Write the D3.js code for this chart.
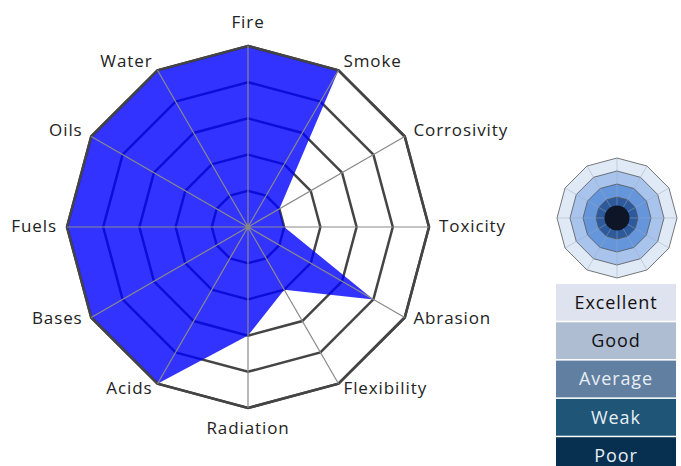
<!DOCTYPE html>
<html>
<head>
<meta charset="utf-8">
<script src="https://cdn.jsdelivr.net/npm/d3@7"></script>
<style>
  body { margin: 0; background: #fff; }
  svg text { font-family: "Open Sans", "Lato", sans-serif; letter-spacing: 0.9px; }
</style>
</head>
<body>
<div id="chart"></div>
<script>
// chart data
var axes = ["Fire", "Smoke", "Corrosivity", "Toxicity", "Abrasion", "Flexibility",
            "Radiation", "Acids", "Bases", "Fuels", "Oils", "Water"];
var values = [5, 5, 1, 1, 4, 2, 3, 5, 5, 5, 5, 5];
var levels = [1, 2, 3, 4, 5];
var ratings = ["Excellent", "Good", "Average", "Weak", "Poor"];

var width = 681, height = 466,
    cx = 248, cy = 227,
    radius = 181;

var svg = d3.select("#chart").append("svg")
            .attr("width", width)
            .attr("height", height);

var r = d3.scaleLinear().domain([0, 5]).range([0, radius]);
var angle = d3.scaleLinear().domain([0, axes.length]).range([0, 2 * Math.PI]);

var ringLine = d3.lineRadial()
                 .angle(function(d, i) { return angle(i); })
                 .radius(function(d) { return r(d); })
                 .curve(d3.curveLinearClosed);

var g = svg.append("g").attr("transform", "translate(" + cx + "," + cy + ")");

/* grid rings */
g.selectAll(".ring")
 .data(levels)
 .enter().append("path")
 .attr("class", "ring")
 .attr("d", function(l) { return ringLine(axes.map(function() { return l; })); })
 .attr("fill", "none")
 .attr("stroke", "#444")
 .attr("stroke-width", 2.5);

/* data area */
g.append("path")
 .datum(values)
 .attr("d", ringLine)
 .attr("fill", "#0000ff")
 .attr("fill-opacity", 0.8);

/* outer ring over the area */
g.append("path")
 .attr("d", ringLine(axes.map(function() { return 5; })))
 .attr("fill", "none")
 .attr("stroke", "#444")
 .attr("stroke-width", 2.5);

/* spokes */
g.selectAll(".spoke")
 .data(axes)
 .enter().append("line")
 .attr("class", "spoke")
 .attr("x1", 0).attr("y1", 0)
 .attr("x2", function(d, i) { return r(5) * Math.sin(angle(i)); })
 .attr("y2", function(d, i) { return -r(5) * Math.cos(angle(i)); })
 .attr("stroke", "#8a8a8a")
 .attr("stroke-width", 1.2);

g.append("circle").attr("r", 2.5).attr("fill", "#888");

/* axis labels */
g.selectAll(".label")
 .data(axes)
 .enter().append("text")
 .attr("class", "label")
 .attr("x", function(d, i) { return (radius + 10) * Math.sin(angle(i)); })
 .attr("y", function(d, i) {
     var c = Math.cos(angle(i)),
         y = -(radius + 10) * c - 1;
     if (c < -0.01) y -= 3;
     if (Math.abs(Math.sin(angle(i))) < 0.01) y += c > 0 ? -13 : 14;
     return y;
 })
 .attr("dy", "0.35em")
 .attr("text-anchor", function(d, i) {
     var s = Math.sin(angle(i));
     return s > 0.01 ? "start" : s < -0.01 ? "end" : "middle";
 })
 .attr("font-size", "17px")
 .attr("fill", "#222")
 .text(function(d) { return d; });

/* legend mini radar */
var miniR = [60, 47, 34, 21];
var miniColor = ["#e0eaf7", "#a9c4ec", "#6596dc", "#2d5a9c"];
var mini = svg.append("g").attr("transform", "translate(617,218)");

var miniLine = d3.lineRadial()
                 .angle(function(d, i) { return angle(i); })
                 .radius(function(d) { return d; })
                 .curve(d3.curveLinearClosed);

mini.selectAll(".mring")
    .data(miniR)
    .enter().append("path")
    .attr("d", function(m) { return miniLine(axes.map(function() { return m; })); })
    .attr("fill", function(d, i) { return miniColor[i]; })
    .attr("stroke", "#555")
    .attr("stroke-width", 0.8);

mini.selectAll(".mspoke")
    .data(axes)
    .enter().append("line")
    .attr("x1", 0).attr("y1", 0)
    .attr("x2", function(d, i) { return 60 * Math.sin(angle(i)); })
    .attr("y2", function(d, i) { return -60 * Math.cos(angle(i)); })
    .attr("stroke", "#9aa8bc")
    .attr("stroke-opacity", 0.6)
    .attr("stroke-width", 0.8);

mini.append("circle").attr("r", 12.5).attr("fill", "#0d1526");

/* legend boxes */
var boxColor = ["#dfe3ef", "#afbdd3", "#617fa0", "#1f5577", "#062f50"];
var boxText = ["#111", "#111", "#e8eef5", "#e8eef5", "#e8eef5"];

var y = d3.scaleBand().domain(ratings).range([284, 474]).paddingInner(0.04);

var box = svg.selectAll(".box")
             .data(ratings)
             .enter().append("g")
             .attr("class", "box");

box.append("rect")
   .attr("x", 556).attr("width", 120)
   .attr("y", function(d) { return y(d); })
   .attr("height", y.bandwidth())
   .attr("fill", function(d, i) { return boxColor[i]; });

box.append("text")
   .attr("x", 616)
   .attr("y", function(d) { return y(d) + y.bandwidth() / 2; })
   .attr("dy", "0.35em")
   .attr("text-anchor", "middle")
   .attr("font-size", "18px")
   .attr("fill", function(d, i) { return boxText[i]; })
   .text(function(d) { return d; });
</script>
</body>
</html>
